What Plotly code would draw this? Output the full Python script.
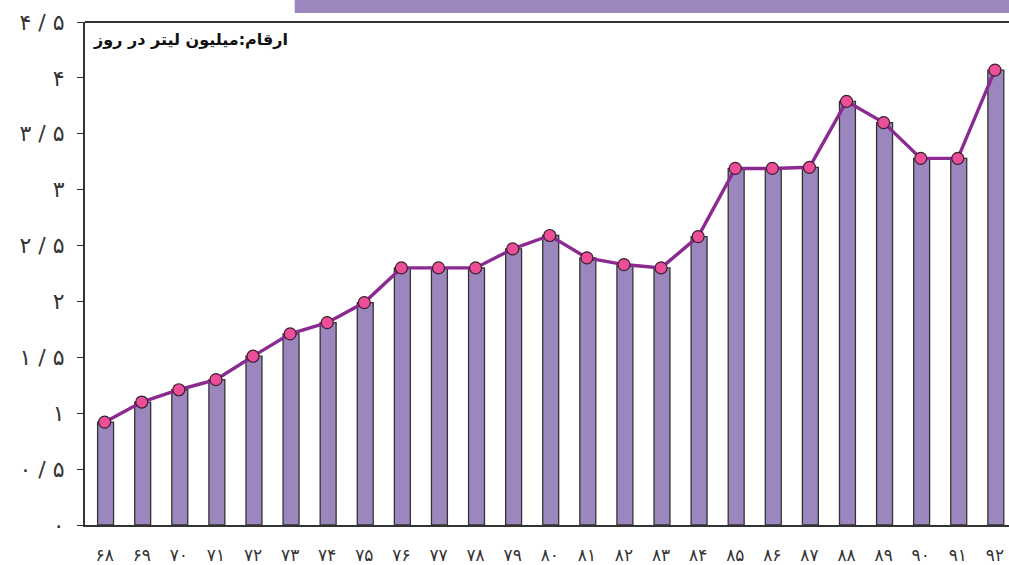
import plotly.graph_objects as go

# years (solar calendar, 13xx) and daily volume in million litres
years = [68, 69, 70, 71, 72, 73, 74, 75, 76, 77, 78, 79, 80,
         81, 82, 83, 84, 85, 86, 87, 88, 89, 90, 91, 92]
values = [0.92, 1.10, 1.21, 1.30, 1.51, 1.71, 1.81, 1.99, 2.30, 2.30, 2.30, 2.47, 2.59,
          2.39, 2.33, 2.30, 2.58, 3.19, 3.19, 3.20, 3.79, 3.60, 3.28, 3.28, 4.07]
year_labels = ["۶۸", "۶۹", "۷۰", "۷۱", "۷۲", "۷۳", "۷۴", "۷۵", "۷۶", "۷۷", "۷۸", "۷۹", "۸۰",
               "۸۱", "۸۲", "۸۳", "۸۴", "۸۵", "۸۶", "۸۷", "۸۸", "۸۹", "۹۰", "۹۱", "۹۲"]
y_ticks = [0, 0.5, 1, 1.5, 2, 2.5, 3, 3.5, 4, 4.5]
y_tick_labels = ["۰", "۰ / ۵", "۱", "۱ / ۵", "۲", "۲ / ۵", "۳", "۳ / ۵", "۴", "۴ / ۵"]
unit_note = "ارقام:میلیون لیتر در روز"

FONT = "DejaVu Sans"

fig = go.Figure()

fig.add_trace(go.Bar(
    x=years, y=values, width=0.43, offset=-0.19,
    marker=dict(color="#9b87bd", line=dict(color="#333333", width=1.3)),
    hoverinfo="skip",
))
fig.add_trace(go.Scatter(
    x=years, y=values, mode="lines+markers",
    line=dict(color="#8b2a90", width=3.4),
    marker=dict(size=12, color="#ec4f98", line=dict(color="#3a2030", width=1.2)),
))

fig.add_annotation(
    x=0.006, y=0.988, xref="paper", yref="paper", xanchor="left", yanchor="top",
    text="<b>" + unit_note + "</b>", showarrow=False,
    font=dict(family=FONT, size=16, color="#111111"),
)

# top frame line and the purple title band cut off at the top
fig.add_shape(type="line", xref="paper", yref="paper", x0=0, x1=1, y0=1, y1=1,
              line=dict(color="#333333", width=2))
fig.add_shape(type="rect", xref="paper", yref="paper", x0=0.227, x1=1.0, y0=1.018, y1=1.05,
              fillcolor="#9b87bd", line=dict(width=0), layer="above")

fig.update_layout(
    width=1009, height=565,
    margin=dict(l=85, r=0, t=22, b=37),
    paper_bgcolor="white", plot_bgcolor="white",
    showlegend=False,
    xaxis=dict(
        range=[67.47, 92.38], tickvals=years, ticktext=year_labels,
        showgrid=False, zeroline=False,
        showline=True, linecolor="#333333", linewidth=2,
        ticks="", ticklabelstandoff=14,
        tickfont=dict(family=FONT, size=17, color="#333333"),
    ),
    yaxis=dict(
        range=[0, 4.5], tickvals=y_ticks, ticktext=y_tick_labels,
        showgrid=False, zeroline=False,
        showline=True, linecolor="#333333", linewidth=2,
        ticks="outside", ticklen=6, tickcolor="#333333", tickwidth=1,
        ticklabelstandoff=8,
        tickfont=dict(family=FONT, size=22, color="#333333"),
    ),
)

fig.write_html("out.html", config={"displayModeBar": False},
               post_script="document.body.style.margin='0';document.body.style.overflow='hidden';")
